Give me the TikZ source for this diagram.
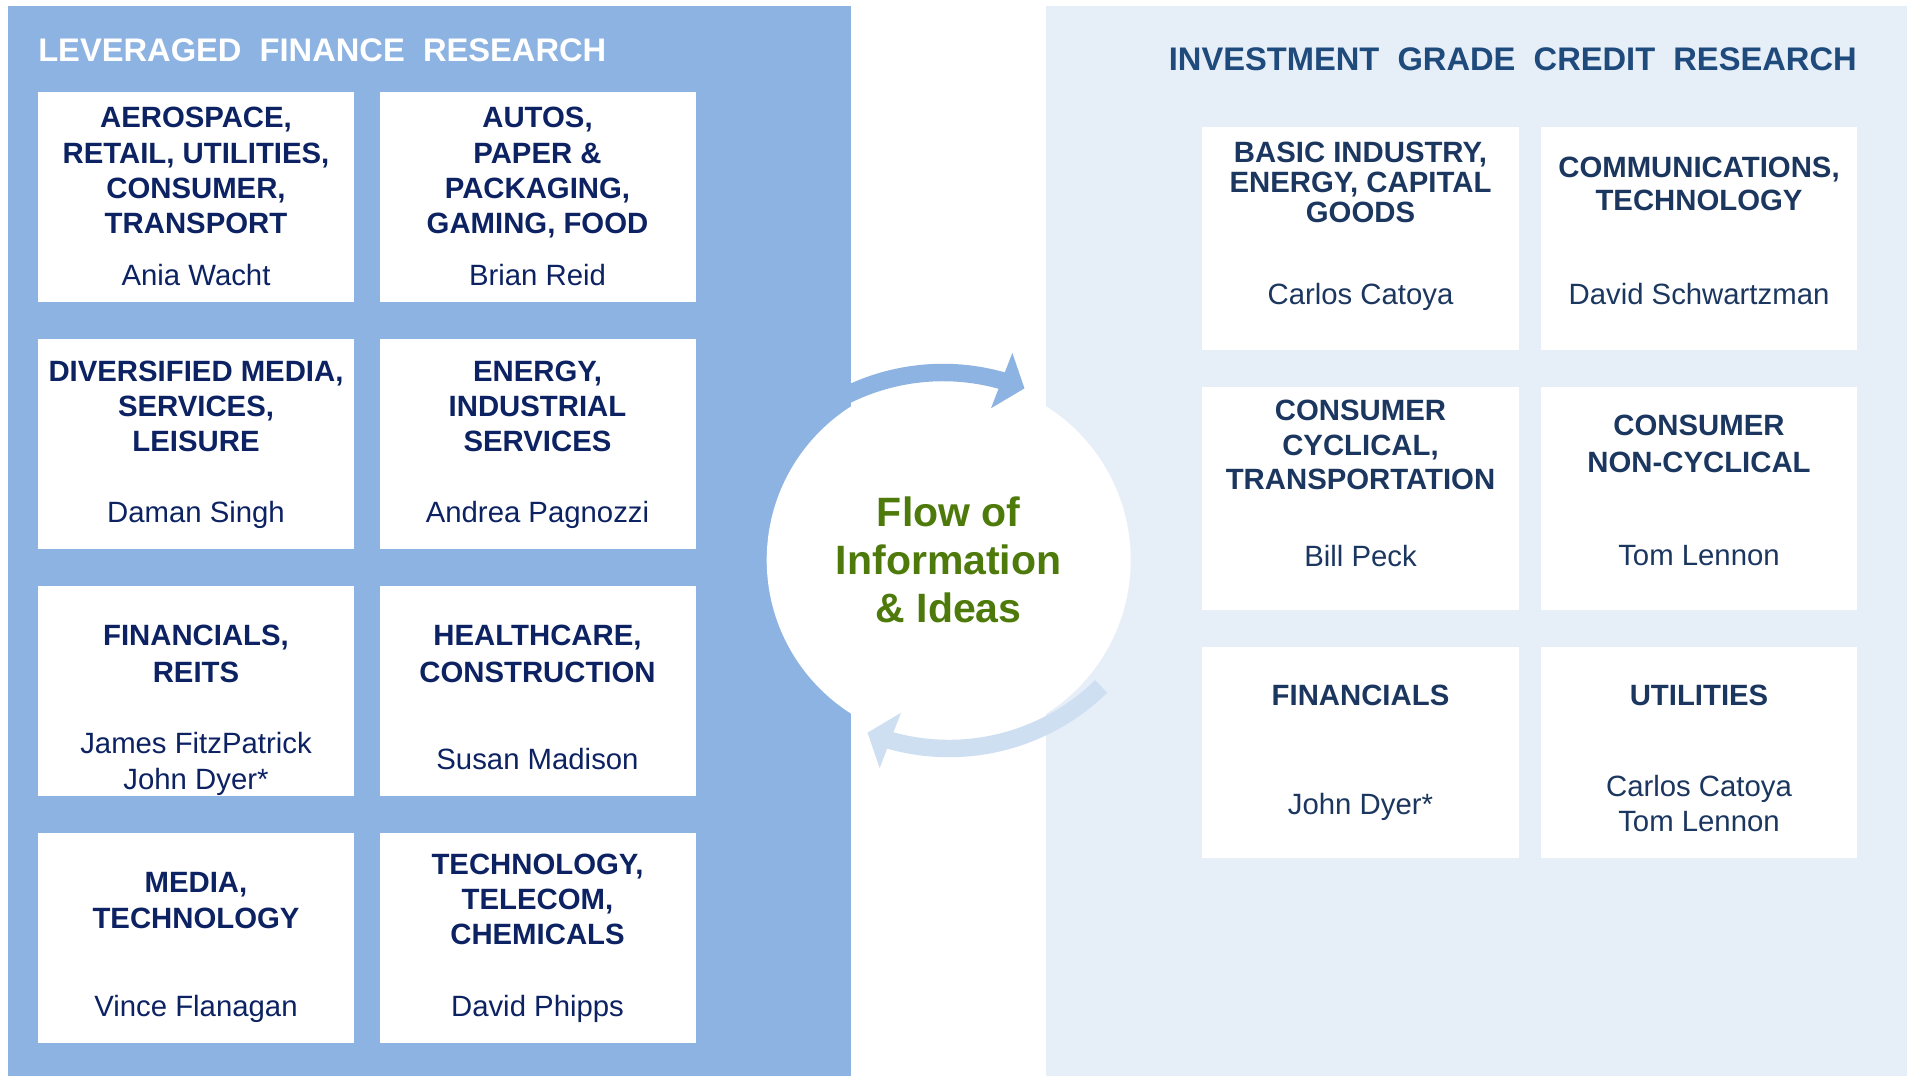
\documentclass[tikz,border=0pt]{standalone}
\usepackage{fontspec}
\setmainfont{Liberation Sans}
\usetikzlibrary{calc}
\definecolor{leftpanel}{HTML}{8DB3E2}
\definecolor{rightpanel}{HTML}{E6EEF8}
\definecolor{arrowlight}{HTML}{CFDFF2}
\definecolor{navyL}{HTML}{0C2262}
\definecolor{navyR}{HTML}{1B365F}
\definecolor{titleR}{HTML}{1F4A7C}
\definecolor{flowgreen}{HTML}{4E7A0B}
\tikzset{
  boxL/.style={rectangle, fill=white, inner sep=0pt, minimum width=237pt, minimum height=157.5pt},
  boxR/.style={rectangle, fill=white, inner sep=0pt, minimum width=237.5pt, minimum height=#1},
  hdrL/.style={font=\bfseries\fontsize{22}{#1}\selectfont, text=navyL, align=center, anchor=north, inner sep=0pt},
  nameL/.style={font=\fontsize{22}{#1}\selectfont, text=navyL, align=center, anchor=north, inner sep=0pt},
  hdrR/.style={font=\bfseries\fontsize{22}{#1}\selectfont, text=navyR, align=center, anchor=north, inner sep=0pt},
  nameR/.style={font=\fontsize{22}{#1}\selectfont, text=navyR, align=center, anchor=north, inner sep=0pt},
  band/.style={line width=13.1pt, line cap=butt},
}
\begin{document}
\begin{tikzpicture}[x=0.75pt, y=-0.75pt]
\useasboundingbox[fill=white] (0,0) rectangle (1914,1076);
% panels
\fill[leftpanel] (8,6) rectangle (851,1076);
\fill[rightpanel] (1046,6) rectangle (1907,1076);
% central circle
\node[circle, fill=white, minimum size=273pt, inner sep=0pt] (hub) at (948.7,560) {};
% titles
\node[anchor=base west, inner sep=0pt, text=white, font=\bfseries\fontsize{24.5}{29}\selectfont] (ltitle) at (38,61) {LEVERAGED\ \ FINANCE\ \ RESEARCH};
\node[anchor=base east, inner sep=0pt, text=titleR, font=\bfseries\fontsize{24.5}{29}\selectfont] (rtitle) at (1857,70) {INVESTMENT\ \ GRADE\ \ CREDIT\ \ RESEARCH};
% left boxes
\node[boxL] (lb1) at (196,197) {};
\node[boxL] (lb2) at (537.5,197) {};
\node[boxL] (lb3) at (196,444) {};
\node[boxL] (lb4) at (537.5,444) {};
\node[boxL] (lb5) at (196,691) {};
\node[boxL] (lb6) at (537.5,691) {};
\node[boxL] (lb7) at (196,938) {};
\node[boxL] (lb8) at (537.5,938) {};
% right boxes
\node[boxR=167.25pt] (rb1) at (1360.5,238.5) {};
\node[boxR=167.25pt] (rb2) at (1699,238.5) {};
\node[boxR=167.25pt] (rb3) at (1360.5,498.5) {};
\node[boxR=167.25pt] (rb4) at (1699,498.5) {};
\node[boxR=158.25pt] (rb5) at (1360.5,752.5) {};
\node[boxR=158.25pt] (rb6) at (1699,752.5) {};
% left texts
\node[hdrL=26.5pt] (lt1) at (196,107) {AEROSPACE,\\RETAIL, UTILITIES,\\CONSUMER,\\TRANSPORT};
\node[nameL=26.5pt] (ln1) at (196,264) {Ania Wacht};
\node[hdrL=26.5pt] (lt2) at (537.5,107) {AUTOS,\\PAPER \&\\PACKAGING,\\GAMING, FOOD};
\node[nameL=26.5pt] (ln2) at (537.5,264) {Brian Reid};
\node[hdrL=26.25pt] (lt3) at (196,361) {DIVERSIFIED MEDIA,\\SERVICES,\\LEISURE};
\node[nameL=26.5pt] (ln3) at (196,501) {Daman Singh};
\node[hdrL=26.25pt] (lt4) at (537.5,361) {ENERGY,\\INDUSTRIAL\\SERVICES};
\node[nameL=26.5pt] (ln4) at (537.5,501) {Andrea Pagnozzi};
\node[hdrL=27.4pt] (lt5) at (196,625) {FINANCIALS,\\REITS};
\node[nameL=27.45pt] (ln5) at (196,731.7) {James FitzPatrick\\John Dyer*};
\node[hdrL=27.4pt] (lt6) at (537.5,625) {HEALTHCARE,\\CONSTRUCTION};
\node[nameL=26.5pt] (ln6) at (537.5,748) {Susan Madison};
\node[hdrL=27pt] (lt7) at (196,872) {MEDIA,\\TECHNOLOGY};
\node[nameL=26.5pt] (ln7) at (196,995) {Vince Flanagan};
\node[hdrL=26.25pt] (lt8) at (537.5,854) {TECHNOLOGY,\\TELECOM,\\CHEMICALS};
\node[nameL=26.5pt] (ln8) at (537.5,995) {David Phipps};
% right texts
\node[hdrR=22.5pt] (rt1) at (1360.5,141.7) {BASIC INDUSTRY,\\ENERGY, CAPITAL\\GOODS};
\node[nameR=26pt] (rn1) at (1360.5,283.3) {Carlos Catoya};
\node[hdrR=25.1pt] (rt2) at (1699,156.7) {COMMUNICATIONS,\\TECHNOLOGY};
\node[nameR=26pt] (rn2) at (1699,283.3) {David Schwartzman};
\node[hdrR=25.9pt] (rt3) at (1360.5,400) {CONSUMER\\CYCLICAL,\\TRANSPORTATION};
\node[nameR=26pt] (rn3) at (1360.5,545) {Bill Peck};
\node[hdrR=27.5pt] (rt4) at (1699,415) {CONSUMER\\NON-CYCLICAL};
\node[nameR=26pt] (rn4) at (1699,545) {Tom Lennon};
\node[hdrR=26pt] (rt5) at (1360.5,685) {FINANCIALS};
\node[nameR=26pt] (rn5) at (1360.5,793.3) {John Dyer*};
\node[hdrR=26pt] (rt6) at (1699,685) {UTILITIES};
\node[nameR=26.25pt] (rn6) at (1699,775) {Carlos Catoya\\Tom Lennon};
% circular arrows
\coordinate (ct) at (943,590);
\coordinate (cb) at (949,531);
\draw[band, draw=leftpanel] ($(ct)+(225.6:217.5)$) arc[start angle=225.6, end angle=286, radius=217.5];
\fill[leftpanel] ($(ct)+(284.8:188)$) -- ($(ct)+(292:217.5)$) -- ($(ct)+(286.3:247)$) -- cycle;
\draw[band, draw=arrowlight] ($(cb)+(45.6:217.5)$) arc[start angle=45.6, end angle=106, radius=217.5];
\fill[arrowlight] ($(cb)+(104.8:188)$) -- ($(cb)+(112:217.5)$) -- ($(cb)+(106.3:247)$) -- cycle;
% centre text
\node[anchor=north, inner sep=0pt, align=center, text=flowgreen, font=\bfseries\fontsize{30.75}{36}\selectfont] (flow) at (948.7,497) {Flow of\\Information\\\& Ideas};
\end{tikzpicture}
\end{document}
